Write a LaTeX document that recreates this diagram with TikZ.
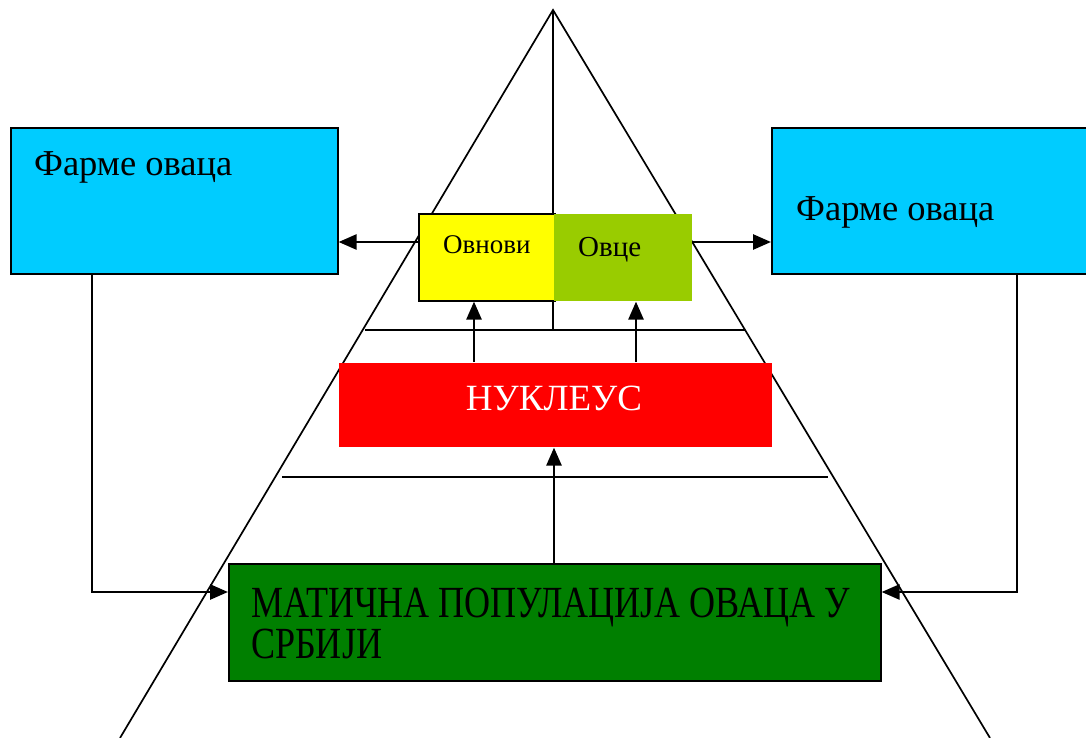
\documentclass[tikz,border=0pt]{standalone}
\usepackage{fontspec}
\setmainfont{Liberation Serif}
\newfontfamily\narrowserif{Liberation Serif}[FakeStretch=0.81]
\usetikzlibrary{arrows.meta}
\definecolor{farmblue}{HTML}{00CCFF}
\definecolor{ramyellow}{HTML}{FFFF00}
\definecolor{ewegreen}{HTML}{99CC00}
\definecolor{nucred}{HTML}{FF0000}
\definecolor{basegreen}{HTML}{007F00}
\tikzset{
  box/.style={anchor=north west, inner sep=0pt, line width=1.6pt},
  flow/.style={line width=2.6pt, -{Triangle[length=18pt,width=15pt]}},
  farmfont/.style={font=\fontsize{36.5}{40}\selectfont, inner sep=0pt},
  smallfont/.style={font=\fontsize{27}{30}\selectfont, inner sep=0pt},
}
\begin{document}
\begin{tikzpicture}[x=1pt,y=-1pt]
  \clip (0,0) rectangle (1086,738);
  %PYRAMID
  \draw[line width=1.7pt] (120,738) -- (553,10) -- (990,738);
  \draw[line width=1.7pt] (553,10) -- (553,330);
  \draw[line width=1.7pt] (365,330) -- (745,330);
  \draw[line width=1.7pt] (282,477) -- (828,477);
  %FARMS
  \node[box, draw, fill=farmblue, minimum width=327, minimum height=146] (farmL) at (10,127) {};
  \node[box, draw, fill=farmblue, minimum width=340, minimum height=146] (farmR) at (771,127) {};
  \node[farmfont, anchor=base west] (farmLtext) at (34,176) {Фарме оваца};
  \node[farmfont, anchor=base west] (farmRtext) at (796,220) {Фарме оваца};
  %RAMS AND EWES
  \node[box, draw, fill=ramyellow, minimum width=136, minimum height=87] (rams) at (418,213) {};
  \node[box, fill=ewegreen, minimum width=138, minimum height=87] (ewes) at (553,213) {};
  \node[smallfont, anchor=base west] (ramstext) at (443,253) {Овнови};
  \node[smallfont, font=\fontsize{29}{30}\selectfont, anchor=base west] (ewestext) at (578,256) {Овце};
  %NUCLEUS
  \node[box, fill=nucred, minimum width=433, minimum height=84] (nucleus) at (338,362) {};
  \node[font=\fontsize{37}{40}\selectfont, text=white, inner sep=0pt, anchor=base] (nucleustext) at (554,410) {НУКЛЕУС};
  %BASE POPULATION
  \node[box, draw, fill=basegreen, minimum width=652, minimum height=117] (base) at (228,563) {};
  \node[font=\narrowserif\fontsize{44.5}{41}\selectfont, inner sep=0pt, align=left, anchor=base west] (basetext) at (251,658) {МАТИЧНА ПОПУЛАЦИЈА ОВАЦА У\\СРБИЈИ};
  %ARROWS
  \draw[flow] (rams.west |- 0,242) -- (farmL.east |- 0,242);
  \draw[flow] (ewes.east |- 0,242) -- (farmR.west |- 0,242);
  \draw[flow] (nucleus.north -| 474,0) -- (rams.south -| 474,0);
  \draw[flow] (nucleus.north -| 636,0) -- (ewes.south -| 636,0);
  \draw[flow] (base.north -| 554,0) -- (nucleus.south -| 554,0);
  \draw[flow] (farmL.south -| 92,0) |- (base.west |- 0,592);
  \draw[flow] (farmR.south -| 1017,0) |- (base.east |- 0,592);
\end{tikzpicture}
\end{document}
